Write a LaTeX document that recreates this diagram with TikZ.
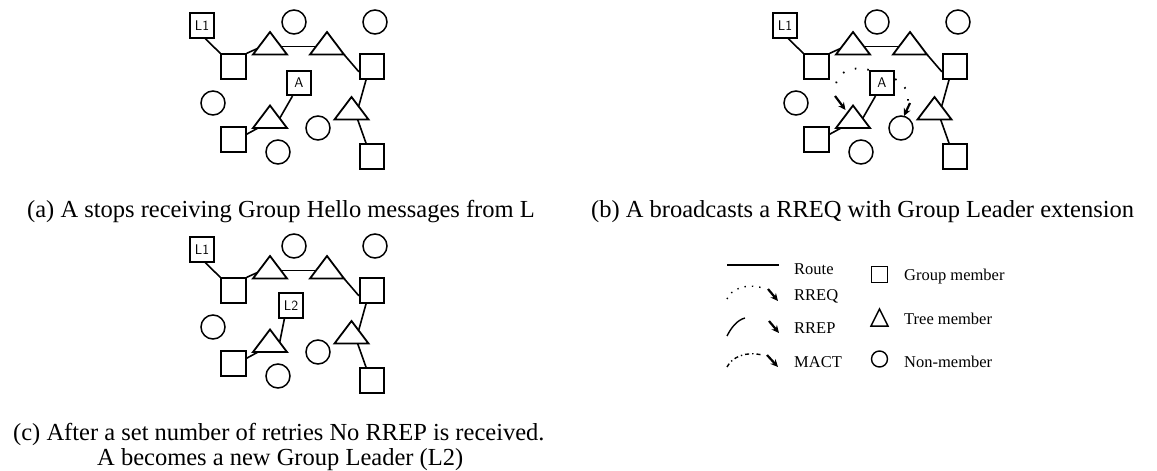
\documentclass[tikz,border=0pt]{standalone}
\usepackage{fontspec}
\setmainfont{Liberation Serif}
\usetikzlibrary{arrows.meta,calc}

\tikzset{
  gm/.style={draw, line width=1.8pt, minimum size=24.5pt, inner sep=0pt,
             font=\sffamily\fontsize{14}{14}\selectfont},
  nm/.style={draw, circle, line width=1.5pt, minimum size=24pt, inner sep=0pt},
  link/.style={line width=1.6pt},
  tmline/.style={line width=1.8pt, line join=miter},
  flood/.style={line width=1.8pt, dash pattern=on 1.6pt off 11pt},
  rrep/.style={line width=1.4pt},
  mact/.style={line width=1.4pt, dash pattern=on 4pt off 3pt on 1.4pt off 3pt},
  tipline/.style={line width=2.2pt, -{Stealth[length=7.5pt,width=7pt]}},
  captxt/.style={inner sep=0pt, anchor=base west, font=\fontsize{24.5}{29}\selectfont},
  legtxt/.style={inner sep=0pt, anchor=west, font=\fontsize{16.5}{17}\selectfont},
}

% tree member: apex at (#2,#3), base 34 wide and 22.5 below the apex
\newcommand\treemember[3]{%
  \coordinate (#1-a) at (#2,#3);
  \coordinate (#1-l) at ({#2-17},{#3+22.5});
  \coordinate (#1-r) at ({#2+17},{#3+22.5});
  \draw[tmline] (#1-a) -- (#1-l) -- (#1-r) -- cycle;
}

% one snapshot of the multicast tree; #1 is the label of the lower group
% member, drawn at (#2,#3)
\newcommand\netpanel[3]{%
  \node[gm] (L1) at (202,25.5) {L1};
  \node[gm] (S1) at (233.5,66.5) {};
  \node[gm] (S2) at (372,66.5) {};
  \node[gm] (A)  at (#2,#3) {#1};
  \node[gm] (S4) at (233.5,139.5) {};
  \node[gm] (S3) at (372,156.5) {};
  \node[nm] (C1) at (294,22) {};
  \node[nm] (C2) at (375,22) {};
  \node[nm] (C3) at (213,103) {};
  \node[nm] (C4) at (318,128) {};
  \node[nm] (C5) at (278,152) {};
  \treemember{T1}{270}{32}
  \treemember{T2}{327}{32}
  \treemember{T3}{351.5}{97}
  \treemember{T4}{270}{105.5}
  \draw[link] ($(L1.south)!0.25!(L1.south east)$) -- (S1.north west);
  \draw[link] (S1.north east) -- ($(T1-l)!0.27!(T1-a)$);
  \draw[link] ($(T1-r)!0.36!(T1-a)$) -- ($(T2-l)!0.36!(T2-a)$);
  \draw[link] (T2-r) -- ($(S2.north west)!0.7!(S2.south west)$);
  \draw[link] ($(S2.south)!0.45!(S2.south west)$) -- ($(T3-a)!0.42!(T3-r)$);
  \draw[link] ($(T3-l)!0.68!(T3-r)$) -- ($(S3.north)!0.45!(S3.north west)$);
  \draw[link] ($(A.south)!0.5!(A.south west)$) -- ($(T4-a)!0.57!(T4-r)$);
  \draw[link] ($(T4-l)!0.15!(T4-r)$) -- ($(S4.north east)!0.3!(S4.south east)$);
}

\begin{document}
\begin{tikzpicture}[x=1pt, y=-1pt]
\useasboundingbox (0,0) rectangle (1157,471);

% (a) the leader L1 falls silent
\begin{scope}[name prefix=a-]
  \netpanel{A}{299}{83}
\end{scope}
\node[captxt] (capa) at (27,217) {(a) A stops receiving Group Hello messages from L};

% (b) A floods a RREQ with the Group Leader extension
\begin{scope}[shift={(583,0)}, name prefix=b-]
  \netpanel{A}{299}{83}
  \coordinate (fl1) at (252,96);
  \coordinate (fl2) at (262.5,110);
  \coordinate (fr1) at (327,103);
  \coordinate (fr2) at (321,116);
  \draw[flood] (A.north west) .. controls (262,64) and (250,78) .. (253,92);
  \draw[tipline] (fl1) -- (fl2);
  \draw[flood] ($(A.north east)!0.35!(A.south east)$) .. controls (322,84) and (326,93) .. (325,101);
  \draw[tipline] (fr1) -- (fr2);
\end{scope}
\node[captxt] (capb) at (591,217) {(b) A broadcasts a RREQ with Group Leader extension};

% (c) A takes over as group leader L2
\begin{scope}[shift={(0,224)}, name prefix=c-]
  \netpanel{L2}{291}{81.5}
\end{scope}
\node[captxt] (capc1) at (13,440) {(c) After a set number of retries No RREP is received.};
\node[captxt] (capc2) at (97,465) {A becomes a new Group Leader (L2)};

% legend: message types
\coordinate (rt1) at (727,265);
\coordinate (rt2) at (779,265);
\draw[line width=1.6pt] (rt1) -- (rt2);
\node[legtxt] (lroute) at (794,269) {Route};

\coordinate (rq0) at (727,299);
\coordinate (rq1) at (763,288);
\coordinate (rqa) at (768,289);
\coordinate (rqb) at (778,301);
\draw[flood, line width=1.4pt, dash pattern=on 1.4pt off 6pt] (rq0) .. controls (731,289) and (746,283) .. (rq1);
\draw[tipline] (rqa) -- (rqb);
\node[legtxt] (lrreq) at (794,296) {RREQ};

\coordinate (rp0) at (727,336);
\coordinate (rp1) at (745,318);
\coordinate (rpa) at (769,321);
\coordinate (rpb) at (779,333);
\draw[rrep] (rp0) .. controls (731,328) and (737,320) .. (rp1);
\draw[tipline] (rpa) -- (rpb);
\node[legtxt] (lrrep) at (794,328) {RREP};

\coordinate (mc0) at (727,367);
\coordinate (mc1) at (762,355);
\coordinate (mca) at (767,355);
\coordinate (mcb) at (778,367);
\draw[mact] (mc0) .. controls (732,357) and (746,351) .. (mc1);
\draw[tipline] (mca) -- (mcb);
\node[legtxt] (lmact) at (794,362) {MACT};

% legend: node roles
\node[draw, line width=1.5pt, minimum size=16pt, inner sep=0pt] (kgm) at (879.5,274.5) {};
\node[legtxt] (lgm) at (904,277) {Group member};
\coordinate (kt-a) at (879.5,309);
\coordinate (kt-l) at (871,326);
\coordinate (kt-r) at (888,326);
\draw[line width=1.5pt] (kt-a) -- (kt-l) -- (kt-r) -- cycle;
\node[legtxt] (ltm) at (904,319) {Tree member};
\node[draw, circle, line width=1.4pt, minimum size=16pt, inner sep=0pt] (knm) at (879.5,359) {};
\node[legtxt] (lnm) at (904,362) {Non-member};
\end{tikzpicture}
\end{document}
